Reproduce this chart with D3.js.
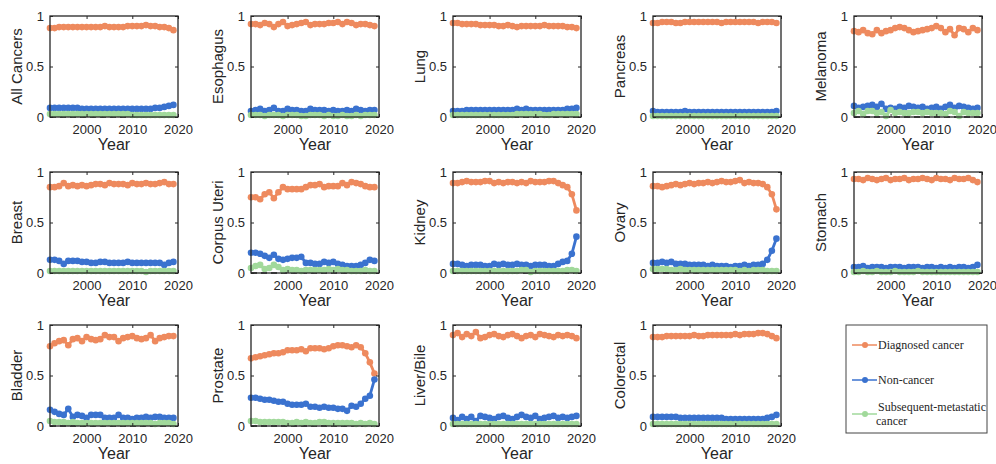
<!DOCTYPE html>
<html>
<head>
<meta charset="utf-8">
<script src="https://cdn.jsdelivr.net/npm/d3@7"></script>
<style>
  body { margin: 0; background: #fff; }
  svg text { font-family: "Liberation Sans", Arial, sans-serif; fill: #262626; }
</style>
</head>
<body>
<div id="chart"></div>
<script>
const years = d3.range(1992, 2020);
const cancerTypes = ["All Cancers", "Esophagus", "Lung", "Pancreas", "Melanoma",
  "Breast", "Corpus Uteri", "Kidney", "Ovary", "Stomach",
  "Bladder", "Prostate", "Liver/Bile", "Colorectal"];
const seriesNames = ["Diagnosed cancer", "Non-cancer", "Subsequent-metastatic cancer"];
const xTicks = [2000, 2010, 2020];
const yTicks = [0, 0.5, 1];

// one row per cancer type, same order as cancerTypes
const diagnosed = [
  [0.88,0.88,0.89,0.89,0.89,0.89,0.89,0.89,0.89,0.89,0.89,0.89,0.90,0.89,0.89,0.89,0.89,0.90,0.90,0.90,0.90,0.91,0.90,0.90,0.89,0.89,0.88,0.86],
  [0.92,0.92,0.91,0.93,0.92,0.89,0.92,0.94,0.90,0.91,0.92,0.93,0.94,0.91,0.92,0.92,0.92,0.93,0.93,0.94,0.92,0.94,0.93,0.91,0.92,0.92,0.91,0.90],
  [0.93,0.93,0.92,0.92,0.92,0.92,0.91,0.91,0.91,0.91,0.90,0.90,0.91,0.90,0.89,0.90,0.90,0.90,0.90,0.90,0.91,0.90,0.90,0.90,0.90,0.89,0.89,0.88],
  [0.93,0.93,0.94,0.94,0.94,0.93,0.93,0.94,0.94,0.94,0.94,0.94,0.94,0.94,0.94,0.93,0.94,0.94,0.94,0.94,0.94,0.94,0.94,0.93,0.94,0.94,0.94,0.93],
  [0.85,0.84,0.86,0.83,0.82,0.86,0.83,0.85,0.86,0.88,0.89,0.88,0.86,0.84,0.85,0.86,0.87,0.88,0.90,0.88,0.84,0.87,0.81,0.88,0.87,0.84,0.88,0.86],
  [0.85,0.85,0.86,0.89,0.86,0.87,0.86,0.87,0.86,0.87,0.88,0.88,0.87,0.89,0.88,0.88,0.88,0.87,0.89,0.88,0.88,0.89,0.88,0.88,0.89,0.90,0.88,0.88],
  [0.75,0.75,0.73,0.78,0.80,0.74,0.80,0.85,0.83,0.83,0.83,0.83,0.85,0.87,0.87,0.88,0.85,0.86,0.86,0.86,0.89,0.87,0.90,0.89,0.88,0.86,0.85,0.85],
  [0.89,0.89,0.90,0.91,0.90,0.90,0.90,0.91,0.91,0.89,0.90,0.89,0.90,0.90,0.89,0.90,0.89,0.91,0.90,0.90,0.90,0.91,0.91,0.89,0.87,0.85,0.78,0.62],
  [0.86,0.86,0.85,0.86,0.87,0.88,0.87,0.88,0.89,0.88,0.89,0.89,0.90,0.89,0.90,0.91,0.90,0.90,0.91,0.92,0.89,0.90,0.89,0.89,0.88,0.85,0.78,0.63],
  [0.93,0.93,0.92,0.94,0.93,0.92,0.93,0.94,0.92,0.93,0.93,0.94,0.92,0.93,0.93,0.94,0.93,0.92,0.94,0.93,0.93,0.92,0.94,0.93,0.93,0.94,0.92,0.90],
  [0.79,0.82,0.84,0.85,0.80,0.86,0.87,0.84,0.88,0.86,0.85,0.86,0.90,0.88,0.88,0.84,0.87,0.88,0.89,0.87,0.86,0.87,0.90,0.84,0.87,0.88,0.89,0.89],
  [0.67,0.68,0.69,0.70,0.71,0.72,0.72,0.73,0.75,0.75,0.75,0.76,0.74,0.77,0.77,0.77,0.76,0.77,0.79,0.80,0.80,0.79,0.78,0.80,0.78,0.72,0.63,0.52],
  [0.90,0.92,0.88,0.91,0.89,0.93,0.87,0.88,0.90,0.91,0.89,0.88,0.90,0.91,0.89,0.87,0.89,0.90,0.88,0.91,0.90,0.89,0.88,0.90,0.89,0.90,0.89,0.87],
  [0.88,0.88,0.88,0.89,0.89,0.89,0.89,0.89,0.89,0.90,0.89,0.89,0.90,0.90,0.90,0.90,0.90,0.90,0.91,0.90,0.91,0.91,0.91,0.92,0.92,0.91,0.89,0.87]
];

const nonCancer = [
  [0.09,0.09,0.09,0.09,0.09,0.09,0.09,0.08,0.08,0.08,0.08,0.08,0.08,0.08,0.08,0.08,0.08,0.08,0.08,0.08,0.08,0.08,0.08,0.09,0.09,0.10,0.11,0.12],
  [0.06,0.07,0.08,0.06,0.07,0.09,0.06,0.06,0.08,0.07,0.07,0.06,0.06,0.08,0.07,0.07,0.07,0.06,0.07,0.06,0.06,0.07,0.06,0.08,0.07,0.06,0.07,0.07],
  [0.06,0.06,0.06,0.07,0.07,0.07,0.07,0.07,0.07,0.07,0.07,0.07,0.07,0.07,0.08,0.07,0.08,0.07,0.07,0.07,0.07,0.07,0.07,0.07,0.07,0.08,0.08,0.09],
  [0.06,0.05,0.05,0.05,0.05,0.05,0.05,0.06,0.05,0.05,0.05,0.05,0.05,0.05,0.05,0.05,0.05,0.05,0.05,0.05,0.05,0.05,0.05,0.05,0.05,0.05,0.05,0.06],
  [0.11,0.09,0.10,0.11,0.12,0.10,0.13,0.08,0.09,0.08,0.10,0.09,0.11,0.10,0.09,0.10,0.08,0.09,0.10,0.08,0.10,0.12,0.09,0.11,0.10,0.09,0.08,0.09],
  [0.13,0.13,0.12,0.09,0.12,0.12,0.12,0.11,0.11,0.10,0.10,0.11,0.11,0.10,0.10,0.10,0.10,0.11,0.10,0.10,0.10,0.10,0.10,0.10,0.10,0.08,0.10,0.11],
  [0.20,0.20,0.19,0.17,0.15,0.18,0.14,0.13,0.14,0.15,0.15,0.16,0.10,0.10,0.09,0.09,0.11,0.10,0.11,0.09,0.08,0.07,0.07,0.07,0.08,0.10,0.13,0.12],
  [0.09,0.09,0.08,0.07,0.08,0.08,0.08,0.07,0.07,0.09,0.08,0.09,0.08,0.08,0.09,0.08,0.08,0.07,0.08,0.08,0.08,0.07,0.07,0.09,0.11,0.12,0.19,0.36],
  [0.10,0.10,0.11,0.10,0.11,0.09,0.09,0.09,0.08,0.08,0.08,0.08,0.07,0.08,0.07,0.07,0.07,0.06,0.07,0.07,0.08,0.07,0.08,0.08,0.09,0.13,0.22,0.34],
  [0.06,0.06,0.07,0.05,0.06,0.06,0.06,0.05,0.06,0.06,0.06,0.05,0.06,0.06,0.06,0.05,0.06,0.06,0.05,0.06,0.05,0.06,0.05,0.06,0.06,0.05,0.06,0.08],
  [0.16,0.14,0.12,0.11,0.17,0.09,0.11,0.10,0.08,0.11,0.11,0.11,0.08,0.08,0.08,0.11,0.08,0.08,0.07,0.08,0.08,0.09,0.08,0.09,0.09,0.08,0.08,0.08],
  [0.28,0.28,0.27,0.26,0.26,0.25,0.24,0.24,0.22,0.21,0.21,0.21,0.22,0.19,0.19,0.18,0.19,0.18,0.18,0.17,0.17,0.15,0.20,0.19,0.22,0.27,0.30,0.46],
  [0.08,0.06,0.09,0.07,0.09,0.05,0.10,0.09,0.08,0.07,0.09,0.10,0.08,0.07,0.09,0.11,0.09,0.08,0.10,0.07,0.08,0.09,0.10,0.08,0.09,0.08,0.09,0.10],
  [0.09,0.09,0.09,0.09,0.09,0.09,0.08,0.08,0.08,0.08,0.08,0.08,0.08,0.08,0.08,0.08,0.07,0.07,0.07,0.07,0.07,0.07,0.07,0.07,0.07,0.08,0.09,0.11]
];

const metastatic = [
  [0.03,0.03,0.03,0.03,0.03,0.03,0.03,0.03,0.03,0.03,0.03,0.03,0.03,0.03,0.03,0.03,0.03,0.03,0.02,0.02,0.02,0.02,0.02,0.02,0.02,0.02,0.02,0.02],
  [0.02,0.02,0.02,0.01,0.02,0.02,0.02,0.01,0.02,0.02,0.02,0.01,0.01,0.02,0.02,0.02,0.01,0.02,0.01,0.01,0.02,0.01,0.01,0.02,0.01,0.02,0.02,0.02],
  [0.02,0.02,0.02,0.02,0.02,0.02,0.02,0.02,0.02,0.02,0.02,0.02,0.02,0.02,0.03,0.03,0.03,0.03,0.03,0.03,0.02,0.02,0.03,0.03,0.03,0.03,0.03,0.03],
  [0.01,0.01,0.01,0.01,0.01,0.01,0.01,0.01,0.01,0.01,0.01,0.01,0.01,0.01,0.01,0.01,0.01,0.01,0.01,0.01,0.01,0.01,0.01,0.01,0.01,0.01,0.01,0.01],
  [0.04,0.06,0.03,0.06,0.06,0.04,0.05,0.01,0.07,0.04,0.05,0.04,0.04,0.05,0.05,0.04,0.05,0.04,0.04,0.04,0.03,0.06,0.05,0.01,0.05,0.04,0.04,0.04],
  [0.02,0.02,0.02,0.02,0.02,0.02,0.02,0.02,0.02,0.02,0.02,0.02,0.02,0.02,0.02,0.02,0.02,0.02,0.02,0.02,0.02,0.01,0.02,0.02,0.02,0.02,0.02,0.02],
  [0.05,0.07,0.08,0.04,0.05,0.08,0.06,0.03,0.04,0.03,0.03,0.02,0.03,0.03,0.03,0.03,0.03,0.04,0.03,0.04,0.03,0.03,0.02,0.02,0.02,0.03,0.02,0.02],
  [0.02,0.02,0.02,0.02,0.02,0.02,0.02,0.02,0.02,0.02,0.02,0.02,0.02,0.02,0.02,0.03,0.03,0.01,0.02,0.02,0.02,0.02,0.02,0.02,0.02,0.03,0.03,0.02],
  [0.04,0.04,0.04,0.04,0.03,0.03,0.04,0.03,0.03,0.03,0.03,0.03,0.03,0.03,0.03,0.03,0.03,0.03,0.03,0.02,0.03,0.02,0.03,0.03,0.03,0.02,0.02,0.02],
  [0.01,0.01,0.02,0.01,0.01,0.02,0.01,0.01,0.01,0.02,0.01,0.01,0.01,0.01,0.02,0.01,0.01,0.01,0.01,0.01,0.01,0.01,0.01,0.01,0.01,0.01,0.01,0.01],
  [0.05,0.04,0.04,0.04,0.03,0.04,0.03,0.03,0.03,0.03,0.03,0.03,0.03,0.03,0.03,0.03,0.03,0.03,0.03,0.03,0.03,0.03,0.03,0.02,0.03,0.03,0.03,0.02],
  [0.05,0.05,0.04,0.04,0.04,0.04,0.04,0.04,0.03,0.03,0.04,0.03,0.04,0.03,0.03,0.04,0.04,0.03,0.03,0.03,0.03,0.03,0.03,0.02,0.03,0.02,0.03,0.02],
  [0.02,0.02,0.02,0.02,0.02,0.02,0.02,0.02,0.02,0.02,0.02,0.02,0.02,0.02,0.02,0.02,0.02,0.02,0.02,0.02,0.02,0.02,0.02,0.02,0.02,0.02,0.02,0.02],
  [0.02,0.02,0.02,0.02,0.02,0.02,0.02,0.02,0.02,0.02,0.02,0.02,0.02,0.02,0.02,0.02,0.02,0.02,0.02,0.02,0.02,0.02,0.02,0.02,0.02,0.02,0.02,0.02]
];

const colors = ["#EE8A5E", "#3A72CF", "#A1D99B"];

const W = 996, H = 464;
const colLeft = [50, 251, 453, 653, 854];
const rowTop = [16, 172, 325];
const pw = 128, ph = 101;

const svg = d3.select("#chart").append("svg")
  .attr("width", W)
  .attr("height", H);

const x = d3.scaleLinear().domain([1992, 2020]).range([0, pw]);
const y = d3.scaleLinear().domain([0, 1]).range([ph, 0]);

const line = d3.line()
  .x((d, i) => x(years[i]))
  .y(d => y(d));

cancerTypes.forEach((name, k) => {
  const g = svg.append("g")
    .attr("transform", `translate(${colLeft[k % 5]},${rowTop[Math.floor(k / 5)]})`);

  // zero reference line
  g.append("line")
    .attr("x1", 0).attr("x2", pw)
    .attr("y1", y(0)).attr("y2", y(0))
    .attr("stroke", "#222")
    .attr("stroke-width", 1.5)
    .attr("stroke-dasharray", "6,4");

  [diagnosed[k], nonCancer[k], metastatic[k]].forEach((vals, s) => {
    g.append("path")
      .datum(vals)
      .attr("d", line)
      .attr("fill", "none")
      .attr("stroke", colors[s])
      .attr("stroke-width", 2.8);
    g.selectAll(null)
      .data(vals)
      .join("circle")
      .attr("cx", (d, i) => x(years[i]))
      .attr("cy", d => y(d))
      .attr("r", 3.3)
      .attr("fill", colors[s]);
  });

  // axes with inward ticks, MATLAB-style box
  const xa = g.append("g")
    .attr("transform", `translate(0,${ph})`)
    .call(d3.axisBottom(x).tickValues(xTicks).tickFormat(d3.format("d")).tickSizeInner(-3).tickSizeOuter(0).tickPadding(8));
  const ya = g.append("g")
    .call(d3.axisLeft(y).tickValues(yTicks).tickFormat(d => d).tickSizeInner(-3).tickSizeOuter(0).tickPadding(6));
  g.append("g")
    .call(d3.axisTop(x).tickValues(xTicks).tickFormat("").tickSizeInner(-3).tickSizeOuter(0));
  g.append("g")
    .attr("transform", `translate(${pw},0)`)
    .call(d3.axisRight(y).tickValues(yTicks).tickFormat("").tickSizeInner(-3).tickSizeOuter(0));

  [xa, ya].forEach(a => a.selectAll("text")
    .style("font-size", "13px")
    .style("font-family", "'Liberation Sans', Arial, sans-serif")
    .attr("fill", "#262626"));
  g.selectAll(".domain").remove();
  g.selectAll(".tick line").attr("stroke", "#262626");

  g.append("rect")
    .attr("width", pw).attr("height", ph)
    .attr("fill", "none")
    .attr("stroke", "#262626")
    .attr("stroke-width", 1.3);

  g.append("text")
    .attr("x", pw / 2)
    .attr("y", ph + 33)
    .attr("text-anchor", "middle")
    .style("font-size", "16px")
    .text("Year");

  g.append("text")
    .attr("transform", `translate(-28,${ph / 2}) rotate(-90)`)
    .attr("text-anchor", "middle")
    .style("font-size", "15px")
    .text(name);
});

// legend
const lg = svg.append("g").attr("transform", "translate(846,325)");
lg.append("rect")
  .attr("width", 141).attr("height", 108)
  .attr("fill", "#fff")
  .attr("stroke", "#444")
  .attr("stroke-width", 1);

const legendY = [20, 55, 89];
seriesNames.forEach((name, s) => {
  const row = lg.append("g").attr("transform", `translate(0,${legendY[s]})`);
  row.append("line")
    .attr("x1", 6).attr("x2", 31)
    .attr("stroke", colors[s])
    .attr("stroke-width", 1.5);
  row.append("circle")
    .attr("cx", 19).attr("r", 3)
    .attr("fill", colors[s]);
  const words = s === 2 ? ["Subsequent-metastatic", "cancer"] : [name];
  const t = row.append("text")
    .attr("x", 32)
    .attr("y", s === 2 ? -3 : 4)
    .style("font-family", "'Liberation Serif', 'Times New Roman', serif")
    .style("font-size", "12px")
    .attr("fill", "#111");
  words.forEach((w, i) => {
    t.append("tspan")
      .attr("x", i === 0 ? 32 : 30)
      .attr("dy", i === 0 ? 0 : 14)
      .text(w);
  });
});
</script>
</body>
</html>
